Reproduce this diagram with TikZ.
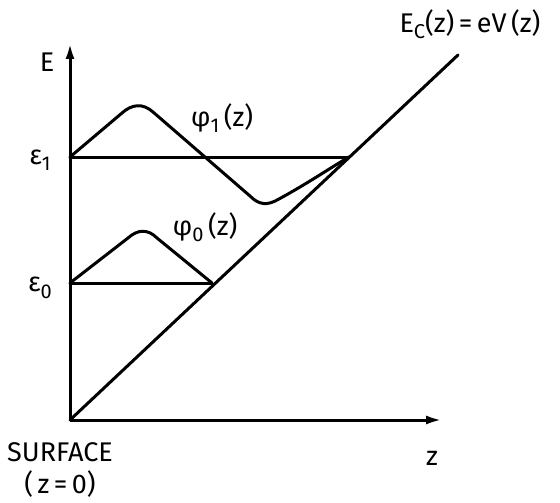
\documentclass[tikz,border=0pt]{standalone}
\usepackage{fontspec}
\setmainfont{Fira Sans}
\usetikzlibrary{arrows.meta}
\newcommand{\lowsub}[1]{\raisebox{-0.45ex}{\fontsize{20}{22}\selectfont #1}}
\tikzset{
  curve/.style={line width=3pt, line cap=round, line join=round},
  axis/.style={line width=3pt, -{Latex[length=16pt,width=9pt]}},
  lbl/.style={font=\fontsize{27}{30}\selectfont, inner sep=0pt}
}
\begin{document}
\begin{tikzpicture}[x=1pt,y=-1pt]
\useasboundingbox (0,0) rectangle (560,503);
\coordinate (O) at (70,420);
\coordinate (Etop) at (70,43);
\coordinate (Zend) at (442,420);
\coordinate (Ec) at (458,55);
\coordinate (e1L) at (70,157);
\coordinate (e1R) at (349,157);
\coordinate (e0L) at (70,283);
\coordinate (e0R) at (212,283);
\draw[axis] (O) -- (Etop);
\draw[axis] (O) -- (Zend);
\draw[curve] (O) -- (Ec);
\draw[curve] (e1L) -- (e1R);
\draw[curve] (e0L) -- (e0R);
\draw[curve] (e1L) -- (122,113) .. controls (132,104) and (143,103) .. (153,112)
  -- (250,196) .. controls (259,205) and (267,206) .. (279,199)
  .. controls (310,182) and (330,168) .. (e1R);
\draw[curve] (e0L) -- (128,238) .. controls (138,229) and (148,229) .. (157,238) -- (e0R);
\node[lbl] (lE) at (47,62) {E};
\node[lbl] (lz) at (432,458) {z};
\node[lbl] (le1) at (40,160) {ε\lowsub{1}};
\node[lbl] (le0) at (40,288) {ε\lowsub{0}};
\node[lbl] (lp1) at (222,118) {φ\lowsub{1}\,(z)};
\node[lbl] (lp0) at (205,227) {φ\lowsub{0}\,(z)};
\node[lbl] (lEc) at (470,24) {E\lowsub{C}(z)\,=\,eV\,(z)};
\node[lbl] (lsurf) at (60,452) {SURFACE};
\node[lbl] (lz0) at (60,484) {(\,z\,=\,0)};
\end{tikzpicture}
\end{document}
